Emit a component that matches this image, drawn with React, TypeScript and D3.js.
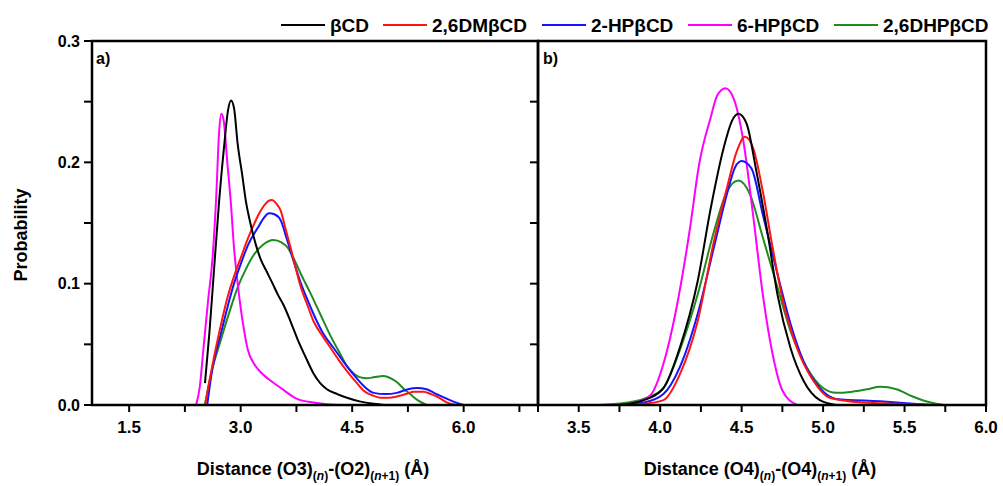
import React from 'react';
import * as d3 from 'd3';

type Pt = [number, number];

// legend / series names and colours
const seriesNames = ['βCD', '2,6DMβCD', '2-HPβCD', '6-HPβCD', '2,6DHPβCD'];
const seriesColors = ['#000000', '#ff1414', '#1414ff', '#ff00ff', '#1f8c1f'];

// panel a) Distance (O3)n-(O2)n+1
const aBeta: Pt[] = [[2.52,0.018],[2.58,0.06],[2.64,0.11],[2.71,0.168],[2.78,0.215],[2.83,0.243],[2.87,0.251],[2.91,0.245],[2.96,0.215],[3.02,0.19],[3.07,0.168],[3.13,0.15],[3.2,0.133],[3.27,0.12],[3.35,0.11],[3.43,0.1],[3.5,0.091],[3.58,0.082],[3.67,0.069],[3.76,0.055],[3.87,0.04],[3.98,0.026],[4.07,0.018],[4.16,0.013],[4.3,0.009],[4.43,0.006],[4.6,0.003],[4.79,0.001],[4.95,0]];
const aDM: Pt[] = [[2.52,0],[2.58,0.02],[2.64,0.039],[2.73,0.065],[2.82,0.088],[2.91,0.106],[3.0,0.121],[3.09,0.136],[3.18,0.149],[3.25,0.158],[3.31,0.164],[3.37,0.168],[3.42,0.169],[3.48,0.166],[3.54,0.16],[3.6,0.146],[3.67,0.13],[3.74,0.113],[3.81,0.097],[3.9,0.082],[3.98,0.069],[4.1,0.057],[4.21,0.047],[4.32,0.037],[4.43,0.028],[4.55,0.019],[4.65,0.012],[4.77,0.008],[4.88,0.006],[5.0,0.006],[5.1,0.007],[5.22,0.009],[5.33,0.011],[5.46,0.011],[5.56,0.009],[5.64,0.007],[5.78,0.002],[5.91,0]];
const a2HP: Pt[] = [[2.55,0],[2.62,0.03],[2.73,0.058],[2.82,0.08],[2.91,0.1],[3.0,0.116],[3.1,0.132],[3.23,0.146],[3.31,0.154],[3.38,0.158],[3.46,0.157],[3.54,0.152],[3.62,0.137],[3.71,0.119],[3.8,0.102],[3.89,0.088],[3.98,0.075],[4.1,0.06],[4.25,0.047],[4.38,0.036],[4.52,0.025],[4.65,0.016],[4.79,0.01],[4.95,0.009],[5.1,0.01],[5.25,0.013],[5.37,0.014],[5.5,0.013],[5.6,0.01],[5.78,0.005],[5.9,0.002],[6.0,0]];
const a6HP: Pt[] = [[2.4,0],[2.45,0.015],[2.5,0.047],[2.56,0.085],[2.62,0.12],[2.67,0.17],[2.71,0.225],[2.74,0.24],[2.77,0.235],[2.82,0.2],[2.87,0.165],[2.91,0.13],[2.96,0.1],[3.0,0.08],[3.05,0.06],[3.09,0.047],[3.18,0.034],[3.27,0.027],[3.36,0.022],[3.54,0.014],[3.76,0.005],[3.98,0.002],[4.2,0.0005],[4.34,0]];
const aDHP: Pt[] = [[2.52,0],[2.6,0.025],[2.73,0.053],[2.85,0.077],[2.96,0.097],[3.07,0.112],[3.18,0.124],[3.3,0.132],[3.44,0.136],[3.55,0.134],[3.63,0.13],[3.72,0.12],[3.81,0.108],[3.94,0.092],[4.07,0.075],[4.2,0.058],[4.34,0.042],[4.43,0.032],[4.52,0.026],[4.6,0.023],[4.7,0.022],[4.8,0.023],[4.92,0.024],[5.02,0.022],[5.1,0.019],[5.2,0.013],[5.28,0.009],[5.38,0.004],[5.5,0]];

// panel b) Distance (O4)n-(O4)n+1
const bBeta: Pt[] = [[3.75,0],[3.9,0.004],[4.02,0.014],[4.12,0.047],[4.23,0.102],[4.31,0.162],[4.39,0.212],[4.44,0.234],[4.48,0.24],[4.53,0.232],[4.59,0.193],[4.66,0.141],[4.72,0.091],[4.8,0.047],[4.88,0.02],[4.98,0.004],[5.08,0]];
const bDM: Pt[] = [[3.45,0],[3.7,0],[3.9,0.001],[4.02,0.004],[4.12,0.025],[4.23,0.069],[4.33,0.135],[4.41,0.179],[4.47,0.209],[4.52,0.221],[4.57,0.212],[4.63,0.176],[4.69,0.13],[4.75,0.088],[4.84,0.047],[4.94,0.02],[5.04,0.006],[5.25,0.002],[5.45,0.001],[5.72,0]];
const b2HP: Pt[] = [[3.75,0],[3.9,0.002],[4.02,0.009],[4.12,0.031],[4.23,0.075],[4.33,0.13],[4.41,0.174],[4.46,0.196],[4.5,0.201],[4.56,0.195],[4.63,0.157],[4.72,0.108],[4.8,0.067],[4.88,0.036],[4.98,0.014],[5.08,0.005],[5.35,0.003],[5.66,0]];
const b6HP: Pt[] = [[3.75,0],[3.85,0.002],[3.94,0.008],[4.02,0.034],[4.1,0.08],[4.18,0.143],[4.24,0.199],[4.31,0.237],[4.35,0.255],[4.4,0.261],[4.45,0.253],[4.51,0.218],[4.57,0.157],[4.63,0.091],[4.69,0.042],[4.75,0.012],[4.84,0]];
const bDHP: Pt[] = [[3.62,0],[3.8,0.002],[3.92,0.006],[4.02,0.014],[4.12,0.045],[4.23,0.091],[4.33,0.143],[4.41,0.176],[4.48,0.185],[4.55,0.174],[4.63,0.138],[4.72,0.097],[4.8,0.061],[4.9,0.031],[5.0,0.014],[5.08,0.01],[5.18,0.011],[5.27,0.013],[5.35,0.015],[5.45,0.013],[5.55,0.007],[5.66,0.002],[5.74,0]];

const panelA = [aBeta, aDM, a2HP, a6HP, aDHP];
const panelB = [bBeta, bDM, b2HP, b6HP, bDHP];
// draw order as in the figure (green under, black on top)
const drawOrder = [4, 3, 2, 1, 0];

const yTicks = [0, 0.05, 0.1, 0.15, 0.2, 0.25, 0.3];
const yLabels = [0, 0.1, 0.2, 0.3];
const aTicks = [1.5, 2.25, 3.0, 3.75, 4.5, 5.25, 6.0, 6.75];
const aLabels = [1.5, 3.0, 4.5, 6.0];
const bTicks = [3.25, 3.5, 3.75, 4.0, 4.25, 4.5, 4.75, 5.0, 5.25, 5.5, 5.75, 6.0];
const bLabels = [3.5, 4.0, 4.5, 5.0, 5.5, 6.0];

const W = 1003, H = 486;
const top = 41, bottom = 405, left = 92, mid = 538, right = 986;
const font = 'Arial, "Liberation Sans", Helvetica, sans-serif';

export default function App() {
  const y = d3.scaleLinear([0, 0.3], [bottom, top]);
  const xa = d3.scaleLinear([1, 7], [left, mid]);
  const xb = d3.scaleLinear([3.25, 6], [mid, right]);

  const mkLine = (x: d3.ScaleLinear<number, number>) =>
    d3.line<Pt>().x(d => x(d[0])).y(d => y(d[1])).curve(d3.curveMonotoneX);
  const la = mkLine(xa);
  const lb = mkLine(xb);

  const legendX = [281, 383, 542, 688, 834];
  const fmt = d3.format('.1f');

  const xAxis = (x: d3.ScaleLinear<number, number>, ticks: number[], labels: number[]) => (
    <g>
      {ticks.map(t => (
        <line key={t} x1={x(t)} x2={x(t)} y1={bottom} y2={bottom + 7} stroke="#000" strokeWidth={2} />
      ))}
      {labels.map(t => (
        <text key={t} x={x(t)} y={433} textAnchor="middle" fontSize={17} fontWeight="bold">{fmt(t)}</text>
      ))}
    </g>
  );

  const yTickMarks = (x0: number) =>
    yTicks.map(t => (
      <line key={t} x1={x0 - 8} x2={x0} y1={y(t)} y2={y(t)} stroke="#000" strokeWidth={2} />
    ));

  return (
    <div style={{ position: 'fixed', left: 0, top: 0 }}>
      <svg width={W} height={H} style={{ display: 'block', background: '#fff' }} fontFamily={font}>
        <rect width={W} height={H} fill="#fff" />
        <defs>
          <clipPath id="clipA"><rect x={left} y={top - 5} width={mid - left} height={bottom - top + 5} /></clipPath>
          <clipPath id="clipB"><rect x={mid} y={top - 5} width={right - mid} height={bottom - top + 5} /></clipPath>
        </defs>

        {/* curves */}
        <g clipPath="url(#clipA)" fill="none" strokeWidth={2}>
          {drawOrder.map(i => (
            <path key={i} d={la(panelA[i]) ?? ''} stroke={seriesColors[i]} />
          ))}
        </g>
        <g clipPath="url(#clipB)" fill="none" strokeWidth={2}>
          {drawOrder.map(i => (
            <path key={i} d={lb(panelB[i]) ?? ''} stroke={seriesColors[i]} />
          ))}
        </g>

        {/* frames */}
        <g fill="none" stroke="#000" strokeWidth={2.5}>
          <rect x={left} y={top} width={mid - left} height={bottom - top} />
          <rect x={mid} y={top} width={right - mid} height={bottom - top} />
        </g>

        {/* y axes */}
        {yTickMarks(left)}
        {yTickMarks(mid)}
        {yLabels.map(t => (
          <text key={t} x={80} y={y(t)} dy="0.35em" textAnchor="end" fontSize={16} fontWeight="bold">{fmt(t)}</text>
        ))}
        <text transform={`translate(27,235) rotate(-90)`} textAnchor="middle" fontSize={18} fontWeight="bold">Probability</text>

        {/* x axes */}
        {xAxis(xa, aTicks, aLabels)}
        {xAxis(xb, bTicks, bLabels)}

        <text x={313} y={475} textAnchor="middle" fontSize={18} fontWeight="bold">
          Distance (O3)<tspan fontSize={12} dy={5}>(<tspan fontStyle="italic">n</tspan>)</tspan>
          <tspan dy={-5}>-(O2)</tspan><tspan fontSize={12} dy={5}>(<tspan fontStyle="italic">n</tspan>+1)</tspan>
          <tspan dy={-5}> (Å)</tspan>
        </text>
        <text x={760} y={475} textAnchor="middle" fontSize={18} fontWeight="bold">
          Distance (O4)<tspan fontSize={12} dy={5}>(<tspan fontStyle="italic">n</tspan>)</tspan>
          <tspan dy={-5}>-(O4)</tspan><tspan fontSize={12} dy={5}>(<tspan fontStyle="italic">n</tspan>+1)</tspan>
          <tspan dy={-5}> (Å)</tspan>
        </text>

        {/* panel labels */}
        <text x={96} y={64} fontSize={16} fontWeight="bold">a)</text>
        <text x={543} y={64} fontSize={16} fontWeight="bold">b)</text>

        {/* legend */}
        {seriesNames.map((name, i) => (
          <g key={name} transform={`translate(${legendX[i]},25)`}>
            <line x1={0} x2={44} y1={0} y2={0} stroke={seriesColors[i]} strokeWidth={2} />
            <text x={49} y={0} dy="0.36em" fontSize={19} fontWeight="bold">{name}</text>
          </g>
        ))}
      </svg>
    </div>
  );
}
